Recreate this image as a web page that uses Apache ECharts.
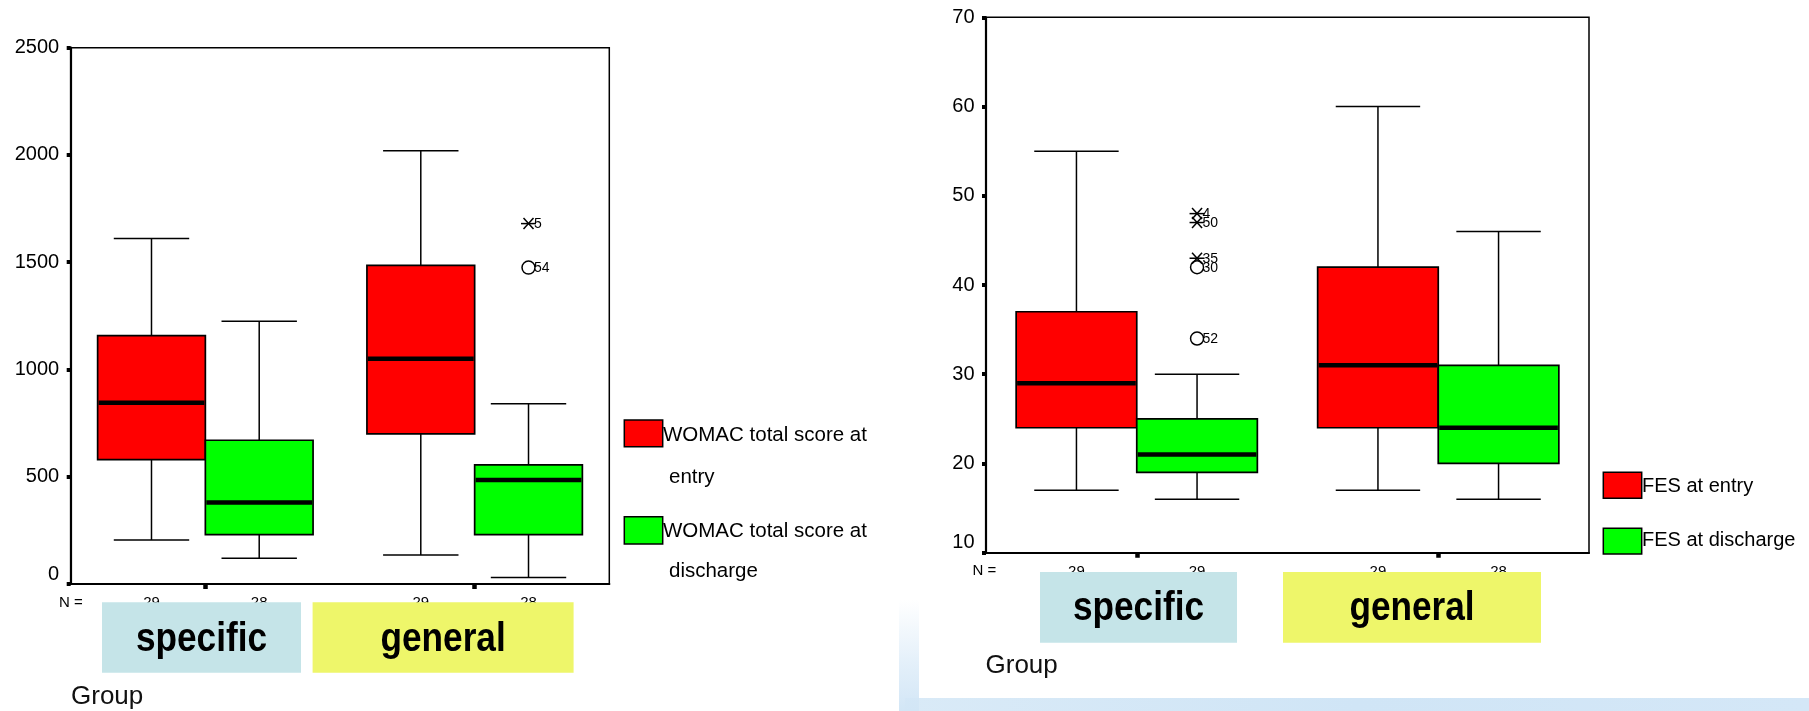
<!DOCTYPE html>
<html>
<head>
<meta charset="utf-8">
<script src="https://cdn.jsdelivr.net/npm/echarts@6/dist/echarts.min.js"></script>
<style>
  html, body { margin: 0; padding: 0; background: #ffffff; }
  #chart { width: 1809px; height: 711px; }
</style>
</head>
<body>
<div id="chart"></div>
<script>
// ---- data ----------------------------------------------------------------
const groups = ['specific', 'general'];

// WOMAC total score, per group: [min, Q1, median, Q3, max]
const womacEntry = [[205, 580, 845, 1158, 1610], [135, 700, 1050, 1485, 2020]];
const womacDischarge = [[120, 230, 380, 670, 1225], [30, 230, 485, 555, 840]];
const womacEntryN = [29, 29];
const womacDischargeN = [28, 28];
// outlying cases of "WOMAC total score at discharge"
const womacOutlierGroup = [1, 1];
const womacOutlierValue = [1680, 1475];
const womacOutlierCase = ['5', '54'];
const womacOutlierKind = ['extreme', 'outlier'];
const womacTicks = [0, 2500, 500];

// FES, per group: [min, Q1, median, Q3, max]
const fesEntry = [[17, 24, 29, 37, 55], [17, 24, 31, 42, 60]];
const fesDischarge = [[16, 19, 21, 25, 30], [16, 20, 24, 31, 46]];
const fesEntryN = [29, 29];
const fesDischargeN = [29, 28];
// outlying cases of "FES at discharge"
const fesOutlierGroup = [0, 0, 0, 0, 0];
const fesOutlierValue = [48, 47, 43, 42, 34];
const fesOutlierCase = ['4', '50', '35', '30', '52'];
const fesOutlierKind = ['extreme', 'extreme', 'extreme', 'outlier', 'outlier'];
const fesTicks = [10, 70, 10];

const womacLegend = [['WOMAC total score at', 'entry'], ['WOMAC total score at', 'discharge']];
const fesLegend = ['FES at entry', 'FES at discharge'];

// ---- styling ---------------------------------------------------------------
const RED = '#ff0000';
const GREEN = '#00ff00';
const SPECIFIC_BG = '#c5e4e8';
const GENERAL_BG = '#eef66a';
const FONT = '"Liberation Sans", Arial, Helvetica, sans-serif';
const BOX_RATIO = 0.4;   // box width as a share of the category band
const CAP_RATIO = 0.7;   // whisker cap width as a share of the box width

function boxRenderer(slot, color, counts) {
  return function (params, api) {
    const g = api.value(0);
    const vals = [1, 2, 3, 4, 5].map(function (i) { return api.value(i); });
    const band = api.size([1, 0])[0];
    const bw = band * BOX_RATIO;
    const cx = api.coord([g, vals[2]])[0] + slot * bw / 2;
    const ys = vals.map(function (v) { return api.coord([g, v])[1]; });
    const yMin = ys[0], yQ1 = ys[1], yMed = ys[2], yQ3 = ys[3], yMax = ys[4];
    const half = bw / 2, cap = bw * CAP_RATIO / 2;
    const cs = params.coordSys;
    const axisY = cs.y + cs.height;
    const thin = { stroke: '#000', lineWidth: 1.5 };
    return {
      type: 'group',
      children: [
        { type: 'line', shape: { x1: cx, y1: yMax, x2: cx, y2: yQ3 }, style: thin },
        { type: 'line', shape: { x1: cx, y1: yQ1, x2: cx, y2: yMin }, style: thin },
        { type: 'line', shape: { x1: cx - cap, y1: yMax, x2: cx + cap, y2: yMax }, style: thin },
        { type: 'line', shape: { x1: cx - cap, y1: yMin, x2: cx + cap, y2: yMin }, style: thin },
        { type: 'rect', shape: { x: cx - half, y: yQ3, width: bw, height: yQ1 - yQ3 },
          style: { fill: color, stroke: '#000', lineWidth: 1.7 } },
        { type: 'line', shape: { x1: cx - half + 1, y1: yMed, x2: cx + half - 1, y2: yMed },
          style: { stroke: '#000', lineWidth: 4.5 } },
        { type: 'text', x: cx, y: axisY + 19,
          style: { text: String(counts[params.dataIndex]), font: '15px ' + FONT,
                   fill: '#000', align: 'center', verticalAlign: 'middle' } }
      ]
    };
  };
}

function outlierRenderer(slot, cases, kinds) {
  return function (params, api) {
    const g = api.value(0), v = api.value(1);
    const bw = api.size([1, 0])[0] * BOX_RATIO;
    const p = api.coord([g, v]);
    const cx = p[0] + slot * bw / 2, cy = p[1];
    const i = params.dataIndex;
    const st = { stroke: '#000', lineWidth: 1.5, fill: 'none' };
    let mark;
    if (kinds[i] === 'extreme') {
      mark = [
        { type: 'line', shape: { x1: cx - 7.5, y1: cy, x2: cx + 7.5, y2: cy }, style: st },
        { type: 'line', shape: { x1: cx - 5, y1: cy - 5.5, x2: cx + 5, y2: cy + 5.5 }, style: st },
        { type: 'line', shape: { x1: cx - 5, y1: cy + 5.5, x2: cx + 5, y2: cy - 5.5 }, style: st }
      ];
    } else {
      mark = [{ type: 'circle', shape: { cx: cx, cy: cy, r: 6.5 }, style: st }];
    }
    mark.push({ type: 'text', x: cx + 5.5, y: cy + 0.5,
      style: { text: cases[i], font: '14px ' + FONT, fill: '#000',
               align: 'left', verticalAlign: 'middle' } });
    return { type: 'group', children: mark };
  };
}

function boxData(rows) {
  return rows.map(function (r, i) { return [i].concat(r); });
}
function outlierData(gs, vs) {
  return gs.map(function (g, i) { return [g, vs[i]]; });
}

function valueAxis(gridIndex, ticks) {
  const lo = ticks[0];
  return {
    type: 'value', gridIndex: gridIndex,
    min: ticks[0], max: ticks[1], interval: ticks[2],
    axisLine: { show: true, lineStyle: { color: '#000', width: 2.2 } },
    axisTick: { show: true, inside: false, length: 4, lineStyle: { color: '#000', width: 4 } },
    splitLine: { show: false },
    axisLabel: {
      show: true, margin: 11.5, color: '#000', fontSize: 20, fontFamily: FONT,
      // the lowest label sits a little higher, clear of the N row
      formatter: function (v) { return v === lo ? '{low|' + v + '}' : String(v); },
      rich: { low: { fontSize: 20, fontFamily: FONT, color: '#000', padding: [0, 0, 20, 0] } }
    }
  };
}

function categoryAxis(gridIndex) {
  return {
    type: 'category', gridIndex: gridIndex, data: groups, boundaryGap: true,
    axisLine: { show: true, lineStyle: { color: '#000', width: 2.2 } },
    axisTick: { show: true, alignWithLabel: true, length: 5, lineStyle: { color: '#000', width: 4.5 } },
    axisLabel: { show: false },
    splitLine: { show: false }
  };
}

// ---- annotations: legends, group boxes, axis captions ------------------------
function legendRect(x, y, w, h, color) {
  return { type: 'rect', shape: { x: x, y: y, width: w, height: h },
           style: { fill: color, stroke: '#000', lineWidth: 1.5 }, z: 100 };
}
function plainText(x, y, text, size, color) {
  return { type: 'text', x: x, y: y, z: 100,
    style: { text: text, font: size + 'px ' + FONT, fill: color || '#000',
             align: 'left', verticalAlign: 'middle' } };
}
function groupBox(x, y, w, h, bg, text) {
  return [
    { type: 'rect', z: 110, shape: { x: x, y: y, width: w, height: h }, style: { fill: bg } },
    { type: 'text', z: 111, x: x + w / 2, y: y + 37.2, scaleX: 0.88,
      style: { text: text, font: 'bold 40px ' + FONT, fill: '#000',
               align: 'center', verticalAlign: 'middle' } }
  ];
}

const graphics = [].concat(
  // slide backdrop peeking out under the right panel
  [{ type: 'rect', z: 0, shape: { x: 905, y: 698, width: 904, height: 13 },
     style: { fill: new echarts.graphic.LinearGradient(0, 0, 1, 0, [
       { offset: 0, color: '#d9eaf7' }, { offset: 0.5, color: '#d0e5f6' }, { offset: 1, color: '#d4e7f7' }]) } },
   { type: 'rect', z: 0, shape: { x: 899, y: 600, width: 20, height: 111 },
     style: { fill: new echarts.graphic.LinearGradient(0, 0, 0, 1, [
       { offset: 0, color: 'rgba(214,232,247,0)' }, { offset: 0.6, color: 'rgba(214,232,247,0.7)' },
       { offset: 1, color: '#d2e6f6' }]) } }],
  // WOMAC legend
  [legendRect(624.3, 420, 38.4, 26.7, RED),
   plainText(663, 435, womacLegend[0][0], 20.5),
   plainText(669, 477, womacLegend[0][1], 20.5),
   legendRect(624.3, 516.7, 38.4, 27.3, GREEN),
   plainText(663, 531.7, womacLegend[1][0], 20.5),
   plainText(669, 571.7, womacLegend[1][1], 20.5)],
  // FES legend
  [legendRect(1603.3, 472.3, 38.4, 26, RED),
   plainText(1642, 486.7, fesLegend[0], 20),
   legendRect(1603.3, 528.3, 38.4, 25.7, GREEN),
   plainText(1642, 540.5, fesLegend[1], 20)],
  // N row captions
  [plainText(59, 602.7, 'N =', 15), plainText(972.5, 570.7, 'N =', 15)],
  // group boxes
  groupBox(102, 602.3, 199, 70.4, SPECIFIC_BG, groups[0]),
  groupBox(312.6, 602.3, 261, 70.4, GENERAL_BG, groups[1]),
  groupBox(1040, 572, 197, 70.7, SPECIFIC_BG, groups[0]),
  groupBox(1283, 572, 258, 70.7, GENERAL_BG, groups[1]),
  // axis title
  [plainText(71, 697.3, 'Group', 26, '#111'),
   plainText(985.5, 666.3, 'Group', 26, '#111')]
);

const chart = echarts.init(document.getElementById('chart'), null, { renderer: 'canvas' });
chart.setOption({
  animation: false,
  backgroundColor: '#ffffff',
  grid: [
    { left: 70.7, top: 47.7, width: 538.6, height: 536.3, show: true,
      borderColor: '#000', borderWidth: 1.5, backgroundColor: 'transparent',
      containLabel: false, outerBoundsMode: 'none' },
    { left: 986, top: 17.3, width: 603, height: 535.4, show: true,
      borderColor: '#000', borderWidth: 1.5, backgroundColor: 'transparent',
      containLabel: false, outerBoundsMode: 'none' }
  ],
  xAxis: [categoryAxis(0), categoryAxis(1)],
  yAxis: [valueAxis(0, womacTicks), valueAxis(1, fesTicks)],
  series: [
    { type: 'custom', name: 'WOMAC total score at entry', xAxisIndex: 0, yAxisIndex: 0,
      data: boxData(womacEntry), encode: { x: 0, y: [1, 2, 3, 4, 5] },
      renderItem: boxRenderer(-1, RED, womacEntryN), clip: false },
    { type: 'custom', name: 'WOMAC total score at discharge', xAxisIndex: 0, yAxisIndex: 0,
      data: boxData(womacDischarge), encode: { x: 0, y: [1, 2, 3, 4, 5] },
      renderItem: boxRenderer(1, GREEN, womacDischargeN), clip: false },
    { type: 'custom', name: 'WOMAC discharge outliers', xAxisIndex: 0, yAxisIndex: 0,
      data: outlierData(womacOutlierGroup, womacOutlierValue), encode: { x: 0, y: 1 },
      renderItem: outlierRenderer(1, womacOutlierCase, womacOutlierKind), clip: false },
    { type: 'custom', name: 'FES at entry', xAxisIndex: 1, yAxisIndex: 1,
      data: boxData(fesEntry), encode: { x: 0, y: [1, 2, 3, 4, 5] },
      renderItem: boxRenderer(-1, RED, fesEntryN), clip: false },
    { type: 'custom', name: 'FES at discharge', xAxisIndex: 1, yAxisIndex: 1,
      data: boxData(fesDischarge), encode: { x: 0, y: [1, 2, 3, 4, 5] },
      renderItem: boxRenderer(1, GREEN, fesDischargeN), clip: false },
    { type: 'custom', name: 'FES discharge outliers', xAxisIndex: 1, yAxisIndex: 1,
      data: outlierData(fesOutlierGroup, fesOutlierValue), encode: { x: 0, y: 1 },
      renderItem: outlierRenderer(1, fesOutlierCase, fesOutlierKind), clip: false }
  ],
  graphic: { elements: graphics }
});
</script>
</body>
</html>
